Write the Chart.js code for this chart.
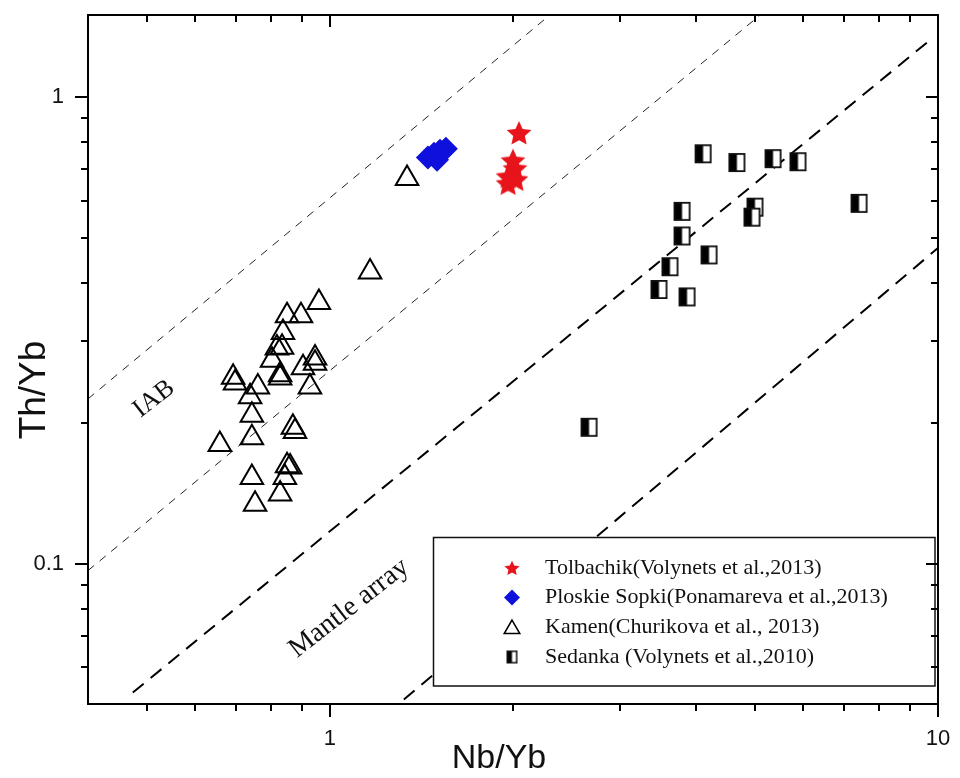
<!DOCTYPE html>
<html>
<head>
<meta charset="utf-8">
<script src="https://cdn.jsdelivr.net/npm/chart.js@4/dist/chart.umd.min.js"></script>
<style>
html,body{margin:0;padding:0;background:#fff;}
#wrap{width:960px;height:778px;position:relative;}
</style>
</head>
<body>
<div id="wrap"><canvas id="c" width="960" height="778"></canvas></div>
<script>
// ---------- data ----------
const tolbachikX = [2.046, 2.000, 2.015, 1.963, 1.963, 2.022];
const tolbachikY = [0.838, 0.731, 0.703, 0.676, 0.653, 0.666];

const ploskieX = [1.449, 1.483, 1.517, 1.551, 1.500];
const ploskieY = [0.742, 0.756, 0.767, 0.775, 0.734];

const kamenX = [1.339, 1.164, 0.959, 0.850, 0.896, 0.837, 0.818, 0.834, 0.945, 0.945,
                0.803, 0.903, 0.828, 0.828, 0.693, 0.698, 0.761, 0.927, 0.739, 0.744,
                0.869, 0.876, 0.659, 0.744, 0.850, 0.860, 0.744, 0.843, 0.828, 0.753];
const kamenY = [0.669, 0.422, 0.363, 0.340, 0.340, 0.313, 0.290, 0.291, 0.276, 0.269,
                0.273, 0.263, 0.254, 0.250, 0.251, 0.244, 0.239, 0.239, 0.228, 0.208,
                0.196, 0.192, 0.180, 0.186, 0.162, 0.161, 0.153, 0.153, 0.141, 0.134];

const sedankaX = [4.108, 4.670, 5.354, 5.885, 7.416, 3.793, 5.000, 4.944, 3.793, 4.202,
                  3.624, 3.476, 3.866, 2.667];
const sedankaY = [0.756, 0.724, 0.738, 0.727, 0.592, 0.569, 0.581, 0.553, 0.504, 0.459,
                  0.433, 0.387, 0.373, 0.196];

// reference lines (end points)
const iabUpperX = [0.4, 2.30];   const iabUpperY = [0.2255, 1.5];
const iabLowerX = [0.4, 5.10];   const iabLowerY = [0.0966, 1.5];
const mantleUpperX = [0.474, 9.59]; const mantleUpperY = [0.0529, 1.309];
const mantleLowerX = [1.323, 10];  const mantleLowerY = [0.0511, 0.475];

// axes
const xRange = [0.4, 10];
const yRange = [0.05, 1.5];
const xMajorTicks = [1, 10];
const xMinorTicks = [0.5, 0.6, 0.7, 0.8, 0.9, 2, 3, 4, 5, 6, 7, 8, 9];
const yMajorTicks = [0.1, 1];
const yMinorTicks = [0.06, 0.07, 0.08, 0.09, 0.2, 0.3, 0.4, 0.5, 0.6, 0.7, 0.8, 0.9];
const xTitle = 'Nb/Yb';
const yTitle = 'Th/Yb';

// annotations
const annotationTexts = ['IAB', 'Mantle array'];
const annotationX = [0.5135, 1.075];
const annotationY = [0.2255, 0.0802];

const seriesNames = [
  'Tolbachik(Volynets et al.,2013)',
  'Ploskie Sopki(Ponamareva et al.,2013)',
  'Kamen(Churikova et al., 2013)',
  'Sedanka (Volynets et al.,2010)'
];

// ---------- marker images ----------
function starCanvas(R, color) {
  const s = Math.ceil(R * 2 + 4);
  const c = document.createElement('canvas');
  c.width = s; c.height = s;
  const g = c.getContext('2d');
  const cx = s / 2, cy = s / 2 + R * 0.08;
  g.beginPath();
  for (let i = 0; i < 10; i++) {
    const ang = -Math.PI / 2 + i * Math.PI / 5;
    const r = (i % 2) ? R * 0.47 : R;
    const px = cx + Math.cos(ang) * r, py = cy + Math.sin(ang) * r;
    if (i === 0) g.moveTo(px, py); else g.lineTo(px, py);
  }
  g.closePath();
  g.fillStyle = color;
  g.fill();
  return c;
}
function halfSquareCanvas(w, h, lw) {
  const c = document.createElement('canvas');
  c.width = w + 2; c.height = h + 2;
  const g = c.getContext('2d');
  g.fillStyle = '#ffffff';
  g.fillRect(1, 1, w, h);
  g.fillStyle = '#000000';
  g.fillRect(1, 1, w / 2, h);
  g.strokeStyle = '#111';
  g.lineWidth = lw;
  g.strokeRect(1 + lw / 2, 1 + lw / 2, w - lw, h - lw);
  return c;
}
const starBig = starCanvas(13, '#e8141b');
const starSmall = starCanvas(8, '#e8141b');
const sqBig = halfSquareCanvas(17, 19, 1.8);
const sqSmall = halfSquareCanvas(11, 13, 1.5);

function pts(xs, ys) { return xs.map((x, i) => ({ x: x, y: ys[i] })); }

// ---------- plugin: frame, ticks, titles, annotations, legend ----------
const decorPlugin = {
  id: 'decor',
  afterDatasetsDraw(chart) {
    const ctx = chart.ctx;
    const a = chart.chartArea;
    const xs = chart.scales.x, ys = chart.scales.y;
    ctx.save();

    // annotations
    ctx.fillStyle = '#111';
    ctx.textAlign = 'center';
    ctx.textBaseline = 'middle';
    const annFont = ['26px "Liberation Serif", "Times New Roman", serif', '28px "Liberation Serif", "Times New Roman", serif'];
    annotationTexts.forEach((t, i) => {
      ctx.save();
      ctx.translate(xs.getPixelForValue(annotationX[i]), ys.getPixelForValue(annotationY[i]));
      ctx.rotate(-38 * Math.PI / 180);
      ctx.font = annFont[i];
      ctx.fillText(t, 0, 0);
      ctx.restore();
    });

    // legend box
    const L = 433.5, T = 537.5, R = 935, B = 686;
    ctx.fillStyle = '#fff';
    ctx.fillRect(L, T, R - L, B - T);
    ctx.strokeStyle = '#111';
    ctx.lineWidth = 1.5;
    ctx.strokeRect(L, T, R - L, B - T);
    const rowY = [568, 597.5, 627, 657];
    const mx = 512, tx = 545;
    // star
    ctx.drawImage(starSmall, mx - starSmall.width / 2, rowY[0] - starSmall.height / 2);
    // diamond
    ctx.fillStyle = '#1010dd';
    Chart.helpers.drawPoint(ctx, { pointStyle: 'rectRot', radius: 8, rotation: 0, borderWidth: 0 }, mx, rowY[1]);
    // triangle
    ctx.fillStyle = 'rgba(0,0,0,0)';
    ctx.strokeStyle = '#000';
    ctx.lineWidth = 1.5;
    Chart.helpers.drawPoint(ctx, { pointStyle: 'triangle', radius: 9, rotation: 0, borderWidth: 1.5 }, mx, rowY[2] + 2);
    // half square
    ctx.drawImage(sqSmall, mx - sqSmall.width / 2, rowY[3] - sqSmall.height / 2);
    ctx.fillStyle = '#111';
    ctx.textAlign = 'left';
    ctx.textBaseline = 'middle';
    ctx.font = '22px "Liberation Serif", "Times New Roman", serif';
    seriesNames.forEach((n, i) => ctx.fillText(n, tx, rowY[i]));

    // frame
    ctx.strokeStyle = '#000';
    ctx.lineWidth = 2;
    ctx.strokeRect(a.left, a.top, a.right - a.left, a.bottom - a.top);

    // ticks
    ctx.beginPath();
    xMinorTicks.forEach(v => {
      const p = Math.round(xs.getPixelForValue(v));
      ctx.moveTo(p, a.bottom); ctx.lineTo(p, a.bottom + 7);
      ctx.moveTo(p, a.top); ctx.lineTo(p, a.top + 7);
    });
    xMajorTicks.forEach(v => {
      const p = Math.round(xs.getPixelForValue(v));
      ctx.moveTo(p, a.bottom); ctx.lineTo(p, a.bottom + 13);
      ctx.moveTo(p, a.top); ctx.lineTo(p, a.top + 12);
    });
    yMinorTicks.forEach(v => {
      const p = Math.round(ys.getPixelForValue(v));
      ctx.moveTo(a.left, p); ctx.lineTo(a.left - 7, p);
      ctx.moveTo(a.right, p); ctx.lineTo(a.right - 7, p);
    });
    yMajorTicks.forEach(v => {
      const p = Math.round(ys.getPixelForValue(v));
      ctx.moveTo(a.left, p); ctx.lineTo(a.left - 13, p);
      ctx.moveTo(a.right, p); ctx.lineTo(a.right - 12, p);
    });
    ctx.stroke();

    // axis titles
    ctx.fillStyle = '#111';
    ctx.font = '34px "Liberation Sans", Arial, sans-serif';
    ctx.textAlign = 'center';
    ctx.textBaseline = 'alphabetic';
    ctx.fillText(xTitle, 499, 768);
    ctx.save();
    ctx.translate(45, 390);
    ctx.rotate(-Math.PI / 2);
    ctx.font = '37px "Liberation Sans", Arial, sans-serif';
    ctx.fillText(yTitle, 0, 0);
    ctx.restore();

    ctx.restore();
  }
};

const xTickFont = { family: '"Liberation Sans", Arial, sans-serif', size: 22 };
const yTickFont = { family: '"Liberation Sans", Arial, sans-serif', size: 22, lineHeight: 0.3 };
function zeroPad(s) { s.paddingTop = 0; s.paddingBottom = 0; s.paddingLeft = 0; s.paddingRight = 0; }

new Chart(document.getElementById('c'), {
  type: 'scatter',
  data: {
    datasets: [
      { label: seriesNames[0], data: pts(tolbachikX, tolbachikY), pointStyle: starBig, pointRadius: 12, order: 1 },
      { label: seriesNames[1], data: pts(ploskieX, ploskieY), pointStyle: 'rectRot', pointRadius: 12,
        backgroundColor: '#1010dd', borderColor: '#1010dd', borderWidth: 0, order: 2 },
      { label: seriesNames[2], data: pts(kamenX, kamenY), pointStyle: 'triangle', pointRadius: 13,
        backgroundColor: 'rgba(0,0,0,0)', borderColor: '#000', borderWidth: 2, order: 3 },
      { label: seriesNames[3], data: pts(sedankaX, sedankaY), pointStyle: sqBig, pointRadius: 10, order: 4 },
      { label: 'IAB upper', data: pts(iabUpperX, iabUpperY), showLine: true, pointRadius: 0,
        borderColor: '#222', borderWidth: 1, borderDash: [8, 7], order: 10 },
      { label: 'IAB lower', data: pts(iabLowerX, iabLowerY), showLine: true, pointRadius: 0,
        borderColor: '#222', borderWidth: 1, borderDash: [8, 7], order: 10 },
      { label: 'Mantle upper', data: pts(mantleUpperX, mantleUpperY), showLine: true, pointRadius: 0,
        borderColor: '#000', borderWidth: 2, borderDash: [14, 9], order: 10 },
      { label: 'Mantle lower', data: pts(mantleLowerX, mantleLowerY), showLine: true, pointRadius: 0,
        borderColor: '#000', borderWidth: 2, borderDash: [14, 9], order: 10 }
    ]
  },
  options: {
    responsive: false,
    animation: false,
    devicePixelRatio: 1,
    layout: { padding: { top: 11, right: 22, left: 0, bottom: 0 } },
    plugins: { legend: { display: false }, tooltip: { enabled: false } },
    scales: {
      x: {
        type: 'logarithmic', position: 'bottom', min: xRange[0], max: xRange[1],
        afterBuildTicks: s => { s.ticks = xMajorTicks.map(v => ({ value: v })); },
        afterFit: s => { s.height = 74; zeroPad(s); },
        ticks: { callback: v => String(v), font: xTickFont, color: '#111', padding: 22, maxRotation: 0, autoSkip: false },
        grid: { display: false, drawTicks: false },
        border: { display: false }
      },
      y: {
        type: 'logarithmic', position: 'left', min: yRange[0], max: yRange[1],
        afterBuildTicks: s => { s.ticks = yMajorTicks.map(v => ({ value: v })); },
        afterFit: s => { s.width = 88; zeroPad(s); },
        ticks: { callback: v => String(v), font: yTickFont, color: '#111', padding: 24, autoSkip: false },
        grid: { display: false, drawTicks: false },
        border: { display: false }
      }
    }
  },
  plugins: [decorPlugin]
});
</script>
</body>
</html>
